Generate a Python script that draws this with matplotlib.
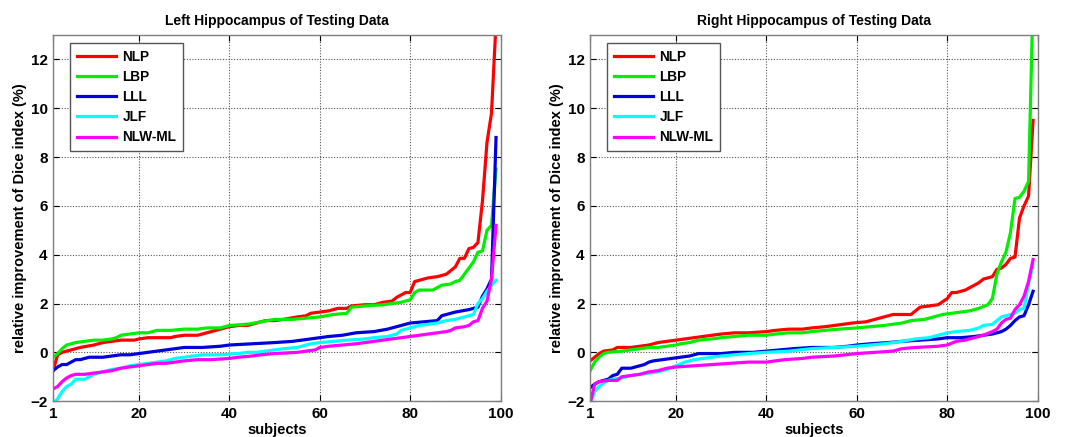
import matplotlib
matplotlib.use("Agg")
import matplotlib.pyplot as plt

plt.rcParams['font.family'] = ['Liberation Sans', 'DejaVu Sans']
plt.rcParams['font.weight'] = 'bold'

methods = ["NLP", "LBP", "LLL", "JLF", "NLW-ML"]
colors = ["#ff0000", "#00ee00", "#0000dd", "#00ffff", "#ff00ff"]

# ---- left hippocampus: (subject, value) samples
left_nlp_x = [1, 2, 3, 5, 7, 10, 12, 14, 16, 19, 20, 22, 27, 28, 30, 33, 35, 37, 40, 42, 44, 46, 48, 50,
              52, 55, 57, 58, 60, 62, 64, 66, 67, 70, 72, 74, 76, 77, 79, 80, 81, 82, 84, 86, 88, 90,
              91, 92, 93, 94, 95, 96, 97, 98, 99]
left_nlp_y = [-0.75, -0.1, 0.0, 0.1, 0.2, 0.3, 0.4, 0.45, 0.5, 0.5, 0.55, 0.6, 0.6, 0.65, 0.7, 0.7, 0.8,
              0.9, 1.05, 1.1, 1.1, 1.2, 1.3, 1.3, 1.35, 1.45, 1.5, 1.6, 1.65, 1.7, 1.8, 1.8, 1.9, 1.95,
              1.95, 2.05, 2.1, 2.25, 2.45, 2.45, 2.9, 2.95, 3.05, 3.1, 3.2, 3.5, 3.85, 3.85, 4.25, 4.3,
              4.5, 6.2, 8.6, 9.8, 13.5]
left_lbp_x = [1, 2, 3, 4, 5, 6, 8, 10, 12, 14, 15, 16, 18, 20, 22, 24, 27, 30, 33, 35, 38, 40, 44, 47,
              50, 54, 57, 60, 63, 66, 67, 70, 74, 78, 80, 81, 82, 85, 87, 89, 90, 91, 92, 93, 94, 95,
              96, 97, 98, 99]
left_lbp_y = [-0.2, -0.05, 0.15, 0.3, 0.35, 0.4, 0.45, 0.5, 0.5, 0.55, 0.6, 0.7, 0.75, 0.8, 0.8, 0.9,
              0.9, 0.95, 0.95, 1.0, 1.0, 1.1, 1.15, 1.25, 1.35, 1.35, 1.4, 1.45, 1.55, 1.6, 1.85, 1.9,
              1.95, 2.05, 2.15, 2.45, 2.55, 2.55, 2.75, 2.8, 2.9, 2.95, 3.2, 3.45, 3.7, 4.1, 4.15, 5.0,
              5.2, 7.5]
left_lll_x = [1, 2, 3, 4, 5, 6, 7, 8, 9, 12, 14, 16, 18, 20, 22, 24, 26, 28, 30, 34, 38, 40, 45, 50,
              54, 58, 62, 65, 68, 72, 75, 77, 79, 80, 83, 86, 87, 90, 93, 94, 95, 96, 97, 98, 99]
left_lll_y = [-0.75, -0.6, -0.5, -0.5, -0.4, -0.3, -0.3, -0.25, -0.2, -0.2, -0.15, -0.1, -0.1, -0.05,
              0.0, 0.05, 0.1, 0.15, 0.2, 0.2, 0.25, 0.3, 0.35, 0.4, 0.45, 0.55, 0.65, 0.7, 0.8, 0.85,
              0.95, 1.05, 1.15, 1.2, 1.25, 1.3, 1.5, 1.65, 1.75, 1.8, 1.85, 2.3, 2.6, 3.0, 8.8]
left_jlf_x = [1, 2, 3, 4, 5, 6, 8, 9, 10, 12, 14, 16, 18, 20, 22, 24, 26, 28, 30, 32, 34, 38, 42, 44,
              46, 48, 50, 52, 55, 58, 60, 63, 66, 70, 72, 75, 77, 78, 80, 82, 84, 86, 88, 90, 92, 94,
              95, 96, 97, 98, 99]
left_jlf_y = [-2.1, -1.9, -1.6, -1.4, -1.3, -1.1, -1.1, -1.0, -0.9, -0.8, -0.7, -0.65, -0.55, -0.5,
              -0.45, -0.4, -0.35, -0.25, -0.2, -0.15, -0.1, -0.1, -0.05, 0.0, 0.0, 0.05, 0.1, 0.15,
              0.2, 0.35, 0.4, 0.45, 0.5, 0.55, 0.6, 0.65, 0.75, 0.9, 1.0, 1.1, 1.15, 1.2, 1.3, 1.35,
              1.45, 1.55, 2.0, 2.2, 2.5, 2.75, 2.95]
left_nlw_x = [1, 2, 3, 4, 5, 6, 8, 10, 12, 14, 16, 18, 20, 22, 24, 26, 28, 30, 33, 36, 40, 42, 45, 47,
              50, 55, 57, 59, 60, 62, 65, 68, 70, 72, 74, 76, 78, 80, 82, 84, 86, 88, 89, 90, 92, 93,
              94, 95, 96, 97, 98, 99]
left_nlw_y = [-1.5, -1.4, -1.2, -1.05, -0.95, -0.9, -0.9, -0.85, -0.8, -0.75, -0.65, -0.6, -0.55,
              -0.5, -0.45, -0.45, -0.4, -0.35, -0.3, -0.3, -0.25, -0.2, -0.15, -0.1, -0.05, 0.0, 0.05,
              0.1, 0.2, 0.25, 0.3, 0.35, 0.4, 0.45, 0.5, 0.55, 0.6, 0.65, 0.7, 0.75, 0.8, 0.85, 0.9,
              1.0, 1.05, 1.1, 1.25, 1.3, 1.8, 2.1, 3.0, 5.2]

# ---- right hippocampus
right_nlp_x = [1, 2, 3, 4, 6, 7, 10, 12, 14, 16, 18, 20, 22, 24, 26, 28, 30, 33, 36, 40, 42, 45, 48,
               50, 53, 55, 57, 59, 62, 64, 66, 68, 72, 74, 76, 78, 80, 81, 82, 84, 86, 87, 88, 90, 91,
               92, 93, 94, 95, 96, 97, 98, 99]
right_nlp_y = [-0.35, -0.2, -0.05, 0.05, 0.1, 0.2, 0.2, 0.25, 0.3, 0.4, 0.45, 0.5, 0.55, 0.6, 0.65,
               0.7, 0.75, 0.8, 0.8, 0.85, 0.9, 0.95, 0.95, 1.0, 1.05, 1.1, 1.15, 1.2, 1.25, 1.35, 1.45,
               1.55, 1.55, 1.85, 1.9, 1.95, 2.2, 2.45, 2.45, 2.55, 2.75, 2.85, 3.0, 3.1, 3.4, 3.45,
               3.6, 3.85, 3.9, 5.5, 6.0, 6.4, 9.5]
right_lbp_x = [1, 2, 3, 4, 5, 8, 10, 12, 14, 16, 18, 20, 21, 23, 25, 28, 30, 33, 36, 40, 42, 45, 48,
               50, 53, 56, 60, 63, 66, 70, 72, 75, 77, 79, 81, 83, 85, 87, 89, 90, 91, 92, 93, 94, 95,
               96, 97, 98, 99]
right_lbp_y = [-0.75, -0.4, -0.2, -0.05, 0.0, 0.05, 0.1, 0.15, 0.2, 0.2, 0.25, 0.3, 0.35, 0.4, 0.5,
               0.55, 0.6, 0.65, 0.7, 0.7, 0.75, 0.8, 0.8, 0.85, 0.9, 0.95, 1.0, 1.05, 1.1, 1.2, 1.3,
               1.35, 1.45, 1.55, 1.6, 1.65, 1.7, 1.8, 1.95, 2.2, 3.2, 3.7, 4.1, 4.9, 6.3, 6.35, 6.6,
               7.0, 14.5]
right_lll_x = [1, 2, 3, 4, 5, 6, 7, 8, 10, 12, 13, 14, 15, 17, 19, 21, 23, 25, 30, 33, 37, 40, 43, 46,
               50, 55, 58, 60, 63, 67, 70, 74, 78, 80, 83, 86, 88, 90, 92, 93, 94, 95, 96, 97, 98, 99]
right_lll_y = [-1.45, -1.3, -1.2, -1.15, -1.1, -0.95, -0.9, -0.65, -0.65, -0.55, -0.5, -0.4, -0.35,
               -0.3, -0.25, -0.2, -0.15, -0.05, -0.05, 0.0, 0.0, 0.05, 0.1, 0.15, 0.2, 0.2, 0.25, 0.3,
               0.35, 0.4, 0.45, 0.5, 0.55, 0.6, 0.6, 0.65, 0.7, 0.75, 0.85, 0.95, 1.1, 1.3, 1.45, 1.5,
               1.95, 2.5]
right_jlf_x = [1, 2, 3, 4, 5, 6, 8, 10, 12, 14, 16, 18, 20, 22, 24, 26, 28, 30, 33, 36, 40, 45, 50,
               55, 60, 63, 66, 70, 73, 76, 78, 80, 82, 85, 87, 88, 90, 91, 92, 93, 94, 95, 96, 97, 98,
               99]
right_jlf_y = [-2.1, -1.6, -1.4, -1.25, -1.15, -1.1, -1.05, -0.95, -0.9, -0.85, -0.8, -0.7, -0.55,
               -0.4, -0.3, -0.25, -0.2, -0.15, -0.1, -0.05, 0.0, 0.05, 0.15, 0.2, 0.25, 0.3, 0.35,
               0.45, 0.55, 0.6, 0.7, 0.8, 0.85, 0.9, 1.0, 1.1, 1.15, 1.3, 1.45, 1.5, 1.55, 1.6, 1.75,
               1.8, 2.8, 3.6]
right_nlw_x = [1, 2, 3, 5, 7, 8, 10, 12, 14, 16, 18, 20, 24, 28, 32, 36, 40, 44, 48, 50, 55, 60, 64,
               68, 70, 73, 78, 80, 82, 84, 86, 88, 90, 91, 92, 93, 94, 95, 96, 97, 98, 99]
right_nlw_y = [-2.1, -1.3, -1.2, -1.15, -1.15, -1.0, -0.95, -0.9, -0.8, -0.75, -0.65, -0.6, -0.55,
               -0.5, -0.45, -0.4, -0.4, -0.3, -0.25, -0.2, -0.15, -0.05, 0.0, 0.05, 0.15, 0.2, 0.25,
               0.3, 0.45, 0.5, 0.6, 0.7, 0.85, 0.95, 1.2, 1.35, 1.4, 1.75, 1.95, 2.3, 2.9, 3.8]

left_series = [(left_nlp_x, left_nlp_y), (left_lbp_x, left_lbp_y), (left_lll_x, left_lll_y),
               (left_jlf_x, left_jlf_y), (left_nlw_x, left_nlw_y)]
right_series = [(right_nlp_x, right_nlp_y), (right_lbp_x, right_lbp_y), (right_lll_x, right_lll_y),
                (right_jlf_x, right_jlf_y), (right_nlw_x, right_nlw_y)]

titles = ["Left Hippocampus of Testing Data", "Right Hippocampus of Testing Data"]
xticks = [1, 20, 40, 60, 80, 100]
yticks = [-2, 0, 2, 4, 6, 8, 10, 12]

fig = plt.figure(figsize=(10.73, 4.37), dpi=100)
ax_left = fig.add_axes([0.0495, 0.082, 0.417, 0.838])
ax_right = fig.add_axes([0.550, 0.082, 0.417, 0.838])

for ax, series, title in zip([ax_left, ax_right], [left_series, right_series], titles):
    for (xs, ys), name, c in zip(series, methods, colors):
        ax.plot(xs, ys, color=c, lw=2.3, label=name)
    ax.set_xlim(1, 100)
    ax.set_ylim(-2, 13)
    ax.set_xticks(xticks)
    ax.set_yticks(yticks)
    ax.grid(True, color="#555555", linestyle=(0, (1, 1.5)), linewidth=0.8)
    ax.tick_params(direction="in", labelsize=11, length=4, top=True, right=True, pad=4)
    for lab in ax.get_xticklabels() + ax.get_yticklabels():
        lab.set_fontweight("bold")
    for sp in ax.spines.values():
        sp.set_color("#7f7f7f")
        sp.set_linewidth(1.0)
    ax.set_title(title, fontsize=10, fontweight="bold", pad=7)
    ax.set_xlabel("subjects", fontsize=10.5, fontweight="bold", labelpad=1.5)
    ax.set_ylabel("relative improvement of Dice index (%)", fontsize=10.5, fontweight="bold",
                  labelpad=2)
    leg = ax.legend(loc="upper left", bbox_to_anchor=(0.038, 0.978), borderaxespad=0,
                    fancybox=False, edgecolor="#555555", framealpha=1, handlelength=2.9,
                    handletextpad=0.45, prop={"weight": "bold", "size": 9.8},
                    borderpad=0.5, labelspacing=0.45)
    leg.get_frame().set_linewidth(1.0)

fig.savefig("out.png", dpi=100)
